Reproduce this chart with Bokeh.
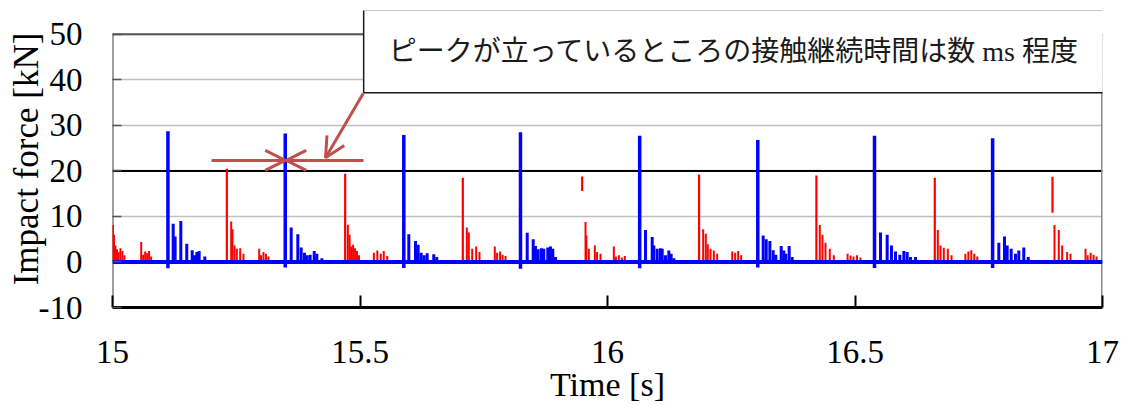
import math
from bokeh.plotting import figure
from bokeh.models import ColumnDataSource, FixedTicker, Span, Label, Arrow, OpenHead
from bokeh.embed import file_html
from bokeh.resources import INLINE

# ---------------- data ----------------
x_ticks = [15, 15.5, 16, 16.5, 17]
x_tick_labels = ["15", "15.5", "16", "16.5", "17"]
y_ticks = [-10, 0, 10, 20, 30, 40, 50]
y_tick_labels = ["-10", "0", "10", "20", "30", "40", "50"]
x_min, x_max = 15, 17
y_min, y_max = -10, 50

# blue series: main impact peaks
blue_main_t = [15.112, 15.349, 15.5885, 15.8242, 16.065, 16.3036, 16.5394, 16.778]
blue_main_v = [28.7, 28.2, 27.9, 28.5, 27.7, 26.8, 27.7, 27.2]
blue_dip_v = [-1.4, -1.2, -1.3, -1.5, -1.4, -1.2, -1.3, -1.3]

# blue series: secondary peaks
blue_sub_t = [
    15.1226, 15.1265, 15.138, 15.150, 15.161, 15.1657, 15.1704, 15.175, 15.1865,
    15.361, 15.3744, 15.3812, 15.3879, 15.3933, 15.3993, 15.4075, 15.4128, 15.4229,
    15.5986, 15.6121, 15.6175, 15.6236, 15.6296, 15.6357, 15.649, 15.655,
    15.8378, 15.8499, 15.8545, 15.86, 15.8667, 15.8713, 15.8794, 15.8848, 15.8895, 15.895,
    16.0768, 16.0903, 16.0936, 16.1004, 16.107, 16.1105, 16.1172, 16.1239, 16.1286, 16.134,
    16.3145, 16.3206, 16.328, 16.3347, 16.34, 16.3509, 16.3562, 16.3602, 16.367, 16.3731,
    16.5515, 16.565, 16.5737, 16.5818, 16.5906, 16.5987, 16.6054, 16.6121, 16.6222,
    16.7905, 16.802, 16.8074, 16.8155, 16.8242, 16.8309, 16.841, 16.8499]
blue_sub_v = [
    8.4, 5.6, 9.0, 4.0, 2.6, 1.5, 2.2, 2.4, 1.2,
    7.6, 6.1, 3.2, 2.0, 1.5, 1.6, 2.4, 1.8, 0.8,
    6.1, 4.6, 3.8, 2.0, 1.5, 1.9, 1.7, 1.1,
    6.4, 5.0, 3.5, 2.8, 3.0, 2.9, 3.2, 3.4, 2.9, 1.1,
    7.0, 5.5, 3.6, 2.9, 3.0, 2.9, 1.5, 2.5, 1.8, 0.8,
    5.8, 5.0, 4.6, 2.6, 1.6, 3.5, 2.5, 1.8, 3.5, 1.1,
    6.5, 6.0, 3.6, 2.3, 1.6, 2.4, 2.2, 1.1, 1.1,
    4.2, 5.6, 3.6, 2.9, 1.8, 2.5, 3.2, 1.1]

blue_base_t = [15.0, 17.0]
blue_base_v = [0.0, 0.0]

# red series: main impact peaks (bottom > 0 where the trace has a gap)
red_main_t = [15.231, 15.470, 15.7077, 15.9488, 16.185, 16.422, 16.6612, 16.899]
red_main_top = [20.5, 19.4, 18.5, 18.8, 19.2, 19.0, 18.5, 18.7]
red_main_bottom = [0.0, 0.0, 0.0, 15.6, 0.0, 0.0, 0.0, 10.8]

# red series: secondary peaks / rattling
red_sub_t = [
    15.001, 15.003, 15.006, 15.009, 15.012, 15.016, 15.020, 15.024,
    15.058, 15.062, 15.066, 15.070, 15.074, 15.078,
    15.2398, 15.2424, 15.2465, 15.2511, 15.258, 15.2646,
    15.2964, 15.300, 15.305, 15.310, 15.315,
    15.4754, 15.479, 15.482, 15.486, 15.490, 15.494, 15.498,
    15.528, 15.535, 15.542, 15.548, 15.555,
    15.7158, 15.7198, 15.7267, 15.7347, 15.7414,
    15.7723, 15.777, 15.783, 15.788, 15.794,
    15.9556, 15.9573, 15.9623, 15.9744, 15.979, 15.9859,
    16.0128, 16.017, 16.023, 16.029, 16.035,
    16.1933, 16.1986, 16.2026, 16.2081, 16.2148, 16.2216,
    16.252, 16.258, 16.264, 16.270,
    16.4289, 16.4343, 16.4404, 16.4491, 16.4572,
    16.485, 16.491, 16.497, 16.504, 16.511,
    16.6673, 16.6727, 16.6794, 16.6875, 16.695,
    16.723, 16.729, 16.735, 16.741, 16.747,
    16.903, 16.9117, 16.9185, 16.9286, 16.9354,
    16.9657, 16.970, 16.976, 16.982, 16.988]
red_sub_v = [
    8.1, 6.0, 3.6, 2.8, 2.2, 3.0, 2.4, 1.5,
    4.4, 1.6, 2.3, 1.9, 2.4, 1.2,
    8.9, 7.2, 3.6, 2.9, 3.0, 1.8,
    2.9, 1.5, 2.2, 1.8, 1.2,
    8.2, 6.0, 3.4, 3.8, 3.0, 2.4, 1.5,
    2.0, 2.5, 1.8, 2.4, 1.3,
    7.6, 6.5, 2.9, 3.4, 2.2,
    3.4, 2.0, 2.3, 1.6, 1.3,
    8.8, 5.8, 2.9, 3.6, 2.2, 1.8,
    3.4, 1.2, 1.5, 1.0, 1.3,
    7.2, 6.2, 3.9, 2.9, 2.5, 1.8,
    2.3, 2.0, 2.4, 1.5,
    8.1, 6.0, 4.2, 2.9, 1.5,
    1.8, 1.4, 1.2, 1.5, 1.0,
    7.0, 3.6, 3.1, 2.9, 1.5,
    1.8, 2.3, 2.6, 1.8, 1.2,
    8.1, 7.0, 3.6, 2.2, 1.8,
    2.9, 1.5, 2.0, 1.6, 1.2]

annotation_text = "ピークが立っているところの接触継続時間は数 ms 程度"
x_title = "Time [s]"
y_title = "Impact force [kN]"

# arrow annotation anchors (data units)
arrow_level = 22.3
arrow_left_start, arrow_left_tip = 15.200, 15.349
arrow_right_start, arrow_right_tip = 15.507, 15.351
diag_start = (15.5065, 37.0)
diag_tip = (15.4303, 22.9)

# ---------------- figure ----------------
SERIF = "Liberation Serif"
ARROW_COLOR = "#c0504d"

# frame is extended above the 50 line so the note box can overlap the top edge
y_view_top = 55.24

p = figure(width=1121, height=405, x_range=(x_min, x_max), y_range=(y_min, y_view_top),
           output_backend="svg", toolbar_location=None,
           min_border_left=112, min_border_right=19, min_border_top=10, min_border_bottom=96,
           background_fill_color="white", border_fill_color="white")

p.outline_line_color = None

# x axis
p.xaxis.ticker = FixedTicker(ticks=x_ticks)
p.xaxis.major_label_overrides = dict(zip(x_ticks, x_tick_labels))
p.xaxis.axis_line_color = "black"
p.xaxis.axis_line_width = 3
p.xaxis.major_tick_in = 12
p.xaxis.major_tick_out = 0
p.xaxis.major_tick_line_width = 2
p.xaxis.major_tick_line_color = "black"
p.xaxis.minor_tick_line_color = None
p.xaxis.major_label_standoff = 33
p.xaxis.major_label_text_font = SERIF
p.xaxis.major_label_text_font_size = "33px"
p.xaxis.major_label_text_color = "black"
p.xaxis.axis_label = x_title
p.xaxis.axis_label_text_font = SERIF
p.xaxis.axis_label_text_font_size = "34px"
p.xaxis.axis_label_text_font_style = "normal"
p.xaxis.axis_label_text_color = "black"
p.xaxis.axis_label_standoff = 0

# y axis
p.yaxis.ticker = FixedTicker(ticks=y_ticks)
p.yaxis.major_label_overrides = dict(zip(y_ticks, y_tick_labels))
p.yaxis.axis_line_color = None
p.yaxis.major_tick_in = 9
p.yaxis.major_tick_out = 0
p.yaxis.major_tick_line_color = "#555555"
p.yaxis.major_tick_line_width = 1.5
p.yaxis.minor_tick_line_color = None
p.yaxis.major_label_standoff = 30
p.yaxis.major_label_text_font = SERIF
p.yaxis.major_label_text_font_size = "33px"
p.yaxis.major_label_text_color = "black"
p.yaxis.axis_label = y_title
p.yaxis.axis_label_text_font = SERIF
p.yaxis.axis_label_text_font_size = "35px"
p.yaxis.axis_label_text_font_style = "normal"
p.yaxis.axis_label_text_color = "black"
p.yaxis.axis_label_standoff = -10

# grid
p.xgrid.visible = False
p.ygrid.ticker = FixedTicker(ticks=y_ticks)
p.ygrid.grid_line_color = "#bfbfbf"
p.ygrid.grid_line_width = 1.5
p.add_layout(Span(location=20, dimension="width", line_color="black",
                  line_width=2, level="underlay"))

# plot-area borders (left axis line, top and right edges)
p.segment(x0=[x_min], y0=[y_min], x1=[x_min], y1=[y_max], line_color="#404040", line_width=2)
p.segment(x0=[x_min], y0=[y_max], x1=[x_max], y1=[y_max], line_color="#555555", line_width=2)
p.segment(x0=[x_max], y0=[y_min], x1=[x_max], y1=[y_max], line_color="#8c8c8c", line_width=3)

# red series
red_main = ColumnDataSource(dict(t=red_main_t, top=red_main_top, bottom=red_main_bottom))
p.segment(x0="t", y0="bottom", x1="t", y1="top", source=red_main,
          line_color="#ff0000", line_width=2.2)
red_sub = ColumnDataSource(dict(t=red_sub_t, v=red_sub_v, z=[0.0] * len(red_sub_t)))
p.segment(x0="t", y0="z", x1="t", y1="v", source=red_sub,
          line_color="#ff0000", line_width=2)

# blue series
p.line(blue_base_t, blue_base_v, line_color="#0000ff", line_width=4)
blue_main = ColumnDataSource(dict(t=blue_main_t, v=blue_main_v, d=blue_dip_v))
p.segment(x0="t", y0="d", x1="t", y1="v", source=blue_main,
          line_color="#0000ff", line_width=3.5)
blue_sub = ColumnDataSource(dict(t=blue_sub_t, v=blue_sub_v, z=[0.0] * len(blue_sub_t)))
p.segment(x0="t", y0="z", x1="t", y1="v", source=blue_sub,
          line_color="#0000ff", line_width=3)

# arrows
def add_arrow(xs, ys, xe, ye):
    p.add_layout(Arrow(end=OpenHead(size=20, line_color=ARROW_COLOR, line_width=3),
                       x_start=xs, y_start=ys, x_end=xe, y_end=ye,
                       line_color=ARROW_COLOR, line_width=3))

add_arrow(arrow_left_start, arrow_level, arrow_left_tip, arrow_level)
add_arrow(arrow_right_start, arrow_level, arrow_right_tip, arrow_level)
add_arrow(diag_start[0], diag_start[1], diag_tip[0], diag_tip[1])

# annotation box
p.add_layout(Label(x=621.5, y=256.3, x_units="screen", y_units="screen",
                   text=annotation_text, text_align="center", text_baseline="middle",
                   text_font="Liberation Serif, Noto Sans CJK JP", text_font_size="28px",
                   text_color="#1a1a1a",
                   background_fill_color="white", border_line_color="#1a1a1a",
                   border_line_width=1.5,
                   padding=dict(left=25, right=25, top=26, bottom=26)))

open("out.html", "w").write(file_html(p, INLINE))
